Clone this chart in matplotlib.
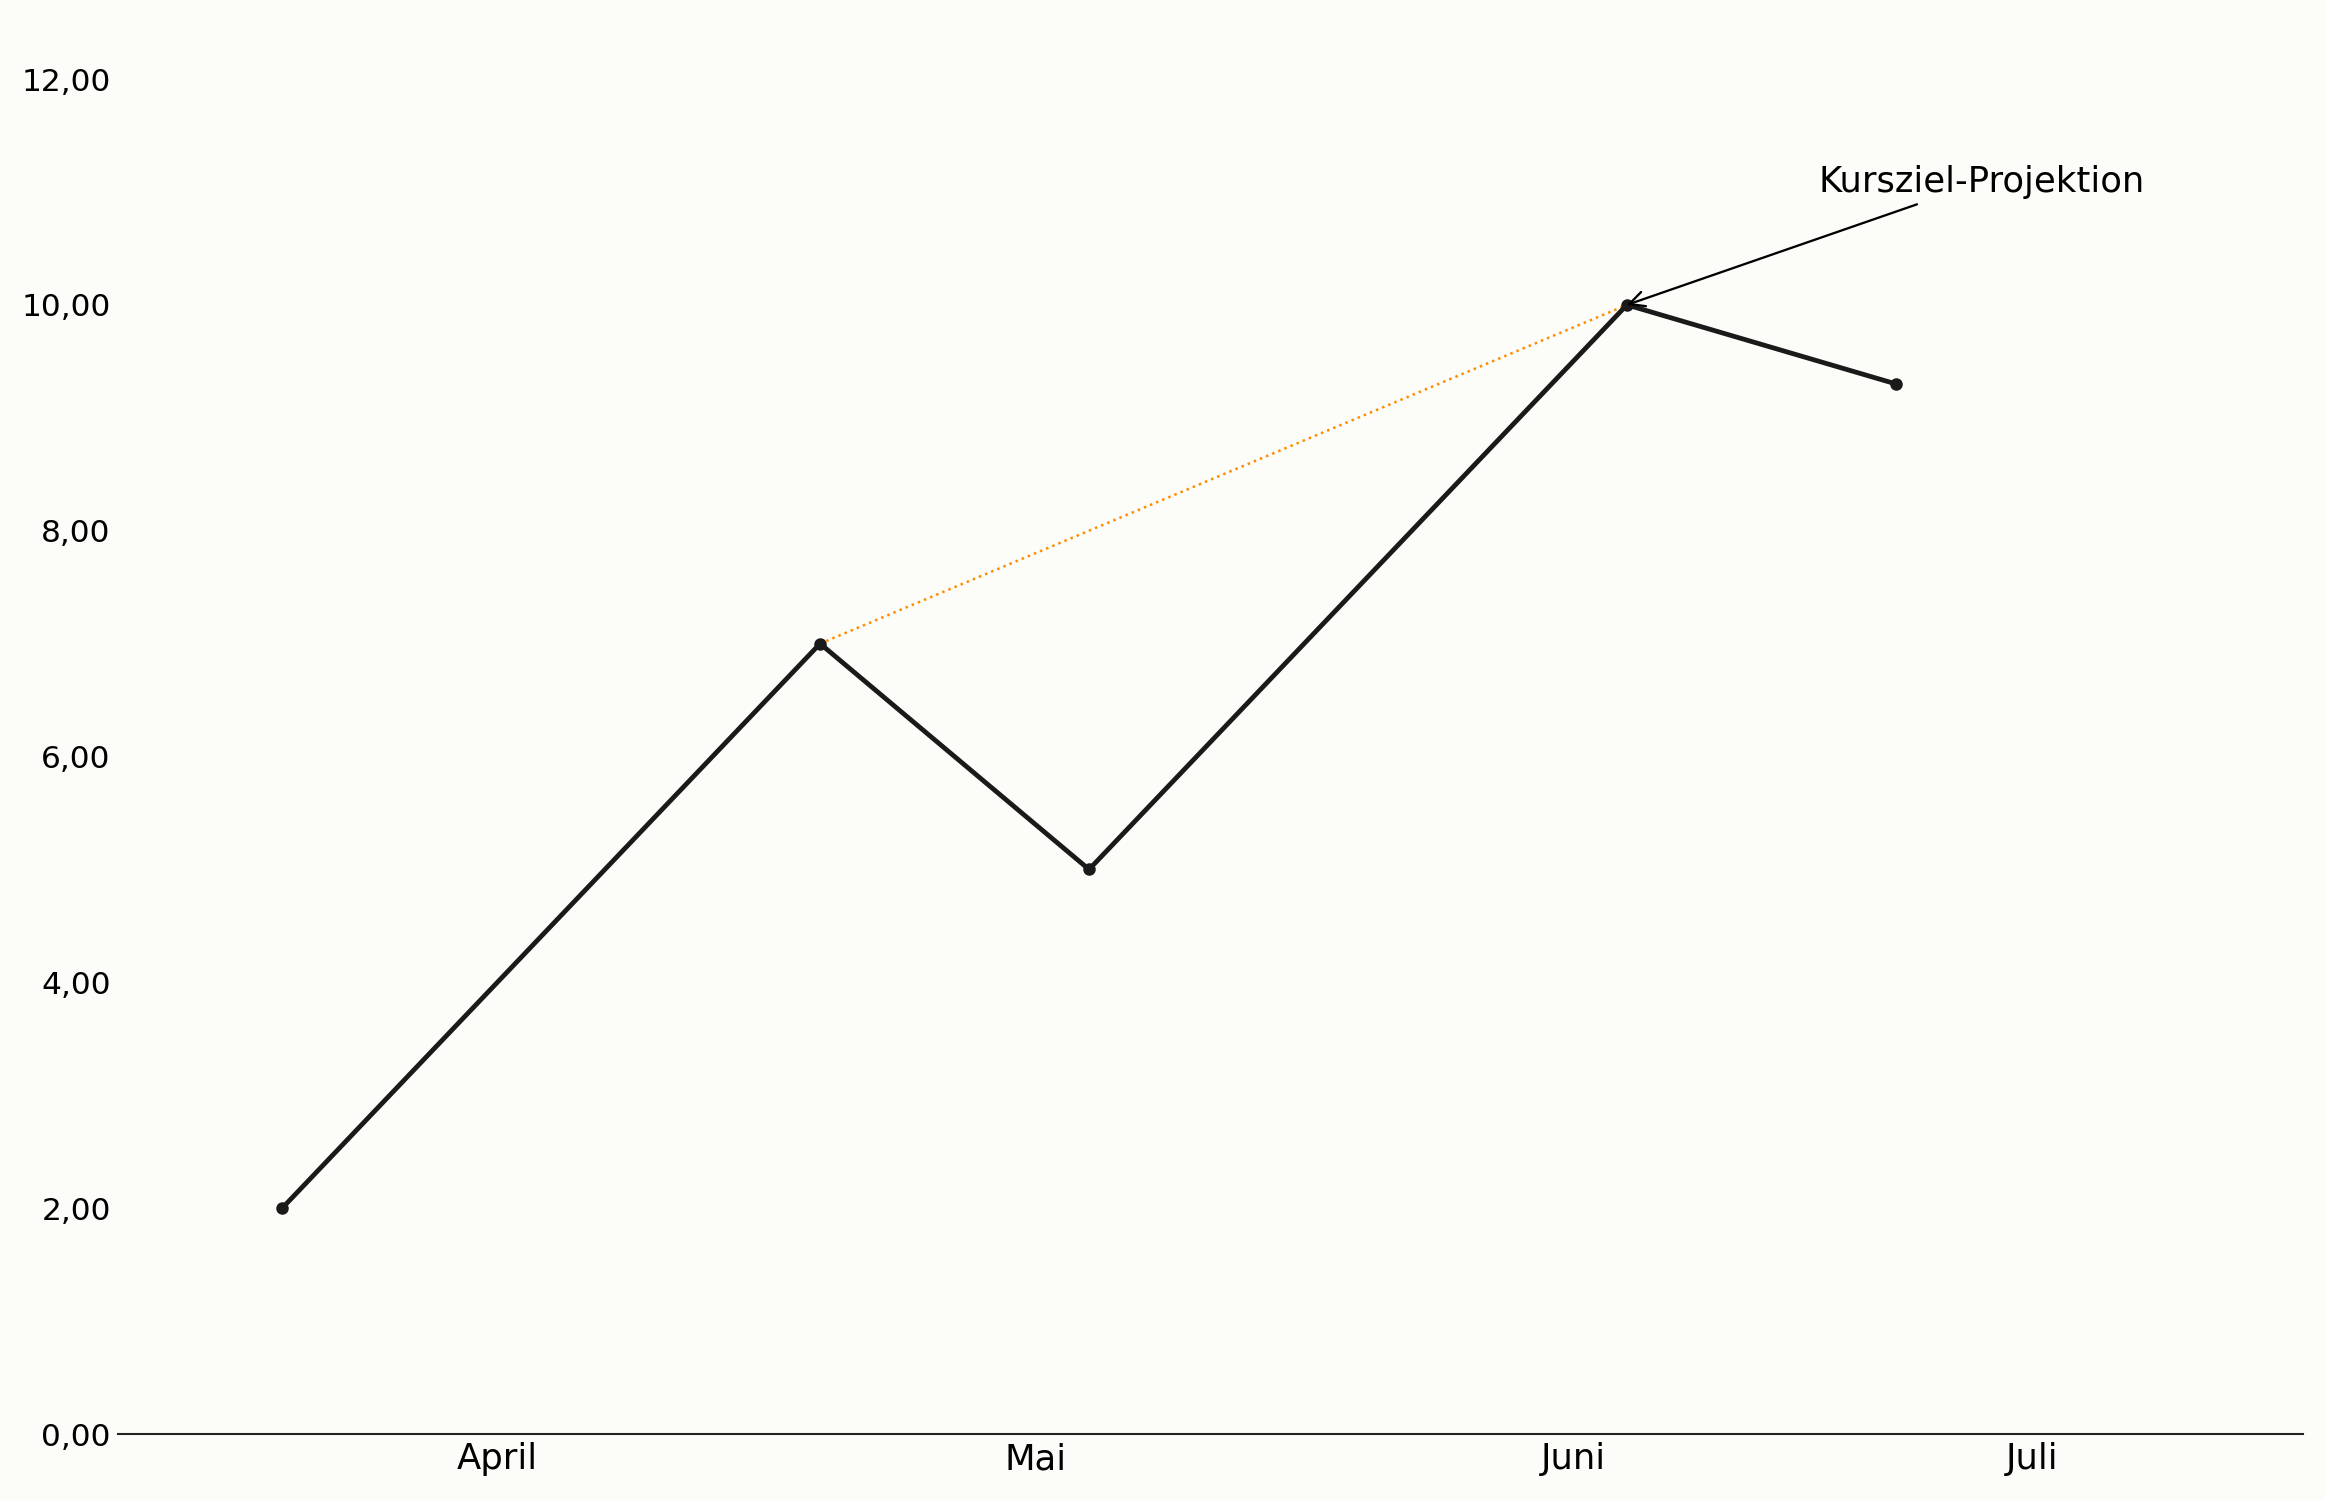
import matplotlib
matplotlib.use("Agg")
import matplotlib.pyplot as plt
from matplotlib.ticker import FuncFormatter

# Tage seit dem ersten Kurspunkt
tage = [0, 30, 45, 75, 90]
kurs = [2.0, 7.0, 5.0, 10.0, 9.3]

# Projektion zwischen zweitem und viertem Punkt
proj_idx = [1, 3]

monat_pos = [12, 42, 72, 97.6]
monat_labels = ["April", "Mai", "Juni", "Juli"]

y_ticks = [0, 2, 4, 6, 8, 10, 12]

annot_text = "Kursziel-Projektion"
annot_xy = (tage[3], kurs[3])
annot_xytext = (94.8, 11.09)

BG = "#fcfcf8"
LINE_COLOR = "#1a1a1a"


def fmt_de(v, pos):
    return f"{v:.2f}".replace(".", ",")


fig = plt.figure(figsize=(15.5, 10), dpi=150, facecolor=BG)
ax = fig.add_axes([0.0508, 0.044, 0.9397, 0.9033])
ax.set_facecolor(BG)

ax.plot([tage[i] for i in proj_idx], [kurs[i] for i in proj_idx],
        color="darkorange", linestyle=":", linewidth=1.2, zorder=2)
ax.plot(tage, kurs, color=LINE_COLOR, linewidth=2.3,
        marker="o", markersize=5, zorder=3)

ax.annotate(annot_text, xy=annot_xy, xytext=annot_xytext,
            fontsize=17, ha="center", va="center", color="black",
            arrowprops=dict(arrowstyle="->", color="black", lw=1.1,
                            shrinkB=0, mutation_scale=18))

ax.set_xlim(-9.15, 112.7)
ax.set_ylim(0, 12)

ax.set_xticks(monat_pos)
ax.set_xticklabels(monat_labels, fontsize=17)
ax.set_yticks(y_ticks)
ax.yaxis.set_major_formatter(FuncFormatter(fmt_de))
ax.tick_params(axis="y", length=0, labelsize=15, pad=3.5)
ax.tick_params(axis="x", length=0, pad=4)

for side in ["top", "right", "left"]:
    ax.spines[side].set_visible(False)
ax.spines["bottom"].set_color("#222222")
ax.spines["bottom"].set_linewidth(1.0)

fig.savefig("out.png", dpi=150, facecolor=BG)
